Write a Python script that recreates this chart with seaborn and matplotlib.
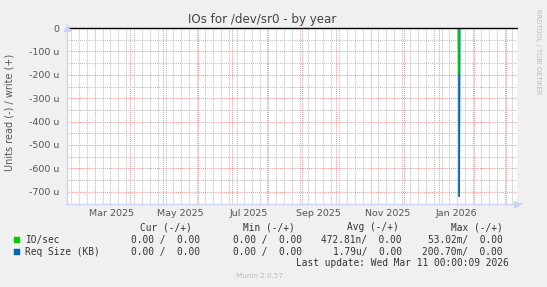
import matplotlib
matplotlib.use("Agg")
import matplotlib.pyplot as plt
import matplotlib.dates as mdates
from matplotlib.ticker import MultipleLocator, FuncFormatter, NullFormatter
import seaborn as sns
import pandas as pd

# ---- data ----
io_dates = ["2025-02-04 00:00", "2026-01-17 18:00", "2026-01-18 06:00",
            "2026-01-18 18:00", "2026-03-11 00:00"]
io_read = [0.0, 0.0, -192e-6, 0.0, 0.0]

req_dates = ["2025-02-04 00:00", "2026-01-18 06:00", "2026-01-18 18:00",
             "2026-01-19 06:00", "2026-03-11 00:00"]
req_read = [0.0, 0.0, -720e-6, 0.0, 0.0]

x_start = "2025-02-04"
x_end = "2026-03-11"
y_min, y_max = -750e-6, 0.0

series_names = ["IO/sec", "Req Size (KB)"]
series_colors = ["#00CC00", "#0066B3"]
cur_vals = ["0.00 /  0.00", "0.00 /  0.00"]
min_vals = ["0.00 /  0.00", "0.00 /  0.00"]
avg_vals = ["472.81n/  0.00", "1.79u/  0.00"]
max_vals = ["53.02m/  0.00", "200.70m/  0.00"]
col_headers = ["Cur (-/+)", "Min (-/+)", "Avg (-/+)", "Max (-/+)"]
title = "IOs for /dev/sr0 - by year"
ylabel = "Units read (-) / write (+)"
last_update = "Last update: Wed Mar 11 00:00:09 2026"
footer = "Munin 2.0.57"
side_text = "RRDTOOL / TOBI OETIKER"

df_io = pd.DataFrame({"date": pd.to_datetime(io_dates), "value": io_read})
df_req = pd.DataFrame({"date": pd.to_datetime(req_dates), "value": req_read})

sns.set_theme(style="white")
plt.rcParams["font.family"] = ["DejaVu Sans"]

W, H = 547, 287
fig = plt.figure(figsize=(W / 100, H / 100), dpi=100, facecolor="#F0F0F0")
L, R, T, B = 66.5, 517, 28, 203.5
ax = fig.add_axes([L / W, 1 - B / H, (R - L) / W, (B - T) / H])
ax.set_facecolor("white")

sns.lineplot(data=df_req, x="date", y="value", ax=ax, color=series_colors[1],
             lw=1.0, zorder=4)
sns.lineplot(data=df_io, x="date", y="value", ax=ax, color=series_colors[0],
             lw=0.9, zorder=5)
ax.axhline(0, color="black", lw=1.0, zorder=6, clip_on=False)

ax.set_xlim(pd.Timestamp(x_start), pd.Timestamp(x_end))
ax.set_ylim(y_min, y_max)

# y axis
ax.yaxis.set_major_locator(MultipleLocator(100e-6))
ax.yaxis.set_minor_locator(MultipleLocator(50e-6))
ax.yaxis.set_major_formatter(FuncFormatter(
    lambda v, p: "0" if abs(v) < 1e-12 else f"{v * 1e6:.0f} u"))

# x axis: month grid, weekly minor grid
ax.xaxis.set_major_locator(mdates.MonthLocator(bymonthday=1))
ax.xaxis.set_major_formatter(NullFormatter())
ax.xaxis.set_minor_locator(mdates.WeekdayLocator(byweekday=mdates.SA))

ax.grid(which="major", color="#EE9A9A", linestyle=(0, (1, 1)), lw=0.75,
        zorder=1, snap=True)
ax.grid(which="minor", color="#BDBDBD", linestyle=(0, (1, 1)), lw=0.75,
        zorder=0, snap=True)
ax.set_axisbelow(True)

ax.tick_params(axis="y", which="both", length=0, pad=5, labelsize=6.8,
               labelcolor="#555555")
ax.tick_params(axis="x", which="major", length=2, color="#EE9A9A", direction="out")
ax.tick_params(axis="x", which="minor", length=2, color="#CFCFCF", direction="out")

sec = ax.secondary_xaxis("bottom")
sec.xaxis.set_major_locator(mdates.MonthLocator(bymonth=[1, 3, 5, 7, 9, 11], bymonthday=16))
sec.xaxis.set_major_formatter(mdates.DateFormatter("%b %Y"))
sec.tick_params(length=0, pad=4, labelsize=6.8, labelcolor="#555555")
sec.spines["bottom"].set_visible(False)

for s in ["top", "right"]:
    ax.spines[s].set_visible(False)
for s in ["left", "bottom"]:
    ax.spines[s].set_color("#CCD2F4")
    ax.spines[s].set_linewidth(1.0)
ax.set_xlabel("")
ax.set_ylabel("")

# axis arrows
ax.plot([0], [1.0], marker="^", color="#CCD2F4", markersize=5,
        transform=ax.transAxes, clip_on=False, zorder=7)
ax.plot([1.0], [0], marker=">", color="#CCD2F4", markersize=5,
        transform=ax.transAxes, clip_on=False, zorder=7)
ax.annotate("", xy=(0, 1.04), xytext=(0, 1.0), xycoords="axes fraction",
            arrowprops=dict(arrowstyle="-", color="#CCD2F4", lw=1))
ax.annotate("", xy=(1.012, 0), xytext=(1.0, 0), xycoords="axes fraction",
            arrowprops=dict(arrowstyle="-", color="#CCD2F4", lw=1))

def fx(px):
    return px / W

def fy(py):
    return 1 - py / H

fig.text(fx(262), fy(19), title, ha="center", va="center", fontsize=8.6,
         color="#444444")
fig.text(fx(10), fy(112), ylabel, rotation=90, ha="center", va="center",
         fontsize=7.0, color="#555555")
fig.text(fx(538), fy(52), side_text, rotation=270, ha="center", va="center",
         fontsize=4.8, color="#BBBBBB")

mono = dict(family="DejaVu Sans Mono", fontsize=6.85, color="#333333", va="center")
hdr_right = [191.3, 295, 398.3, 502.7]
for h, xr in zip(col_headers, hdr_right):
    fig.text(fx(xr), fy(227.5), h, ha="right", **mono)

row_y = [239.8, 251.8]
val_right = [200, 301.7, 401.7, 502.7]
for i, name in enumerate(series_names):
    fig.patches.append(plt.Rectangle((fx(14), fy(row_y[i] + 2.8)), 5.5 / W, 5.5 / H,
                                     transform=fig.transFigure, facecolor=series_colors[i],
                                     edgecolor=series_colors[i], lw=0.3))
    fig.text(fx(25), fy(row_y[i]), name, ha="left", **mono)
    for vals, xr in zip([cur_vals, min_vals, avg_vals, max_vals], val_right):
        fig.text(fx(xr), fy(row_y[i]), vals[i], ha="right", **mono)

fig.text(fx(509), fy(263.5), last_update, ha="right", **mono)
fig.text(fx(260), fy(276), footer, ha="center", va="center", fontsize=5.2,
         color="#BBBBBB")

fig.savefig("out.png", dpi=100, facecolor=fig.get_facecolor())
